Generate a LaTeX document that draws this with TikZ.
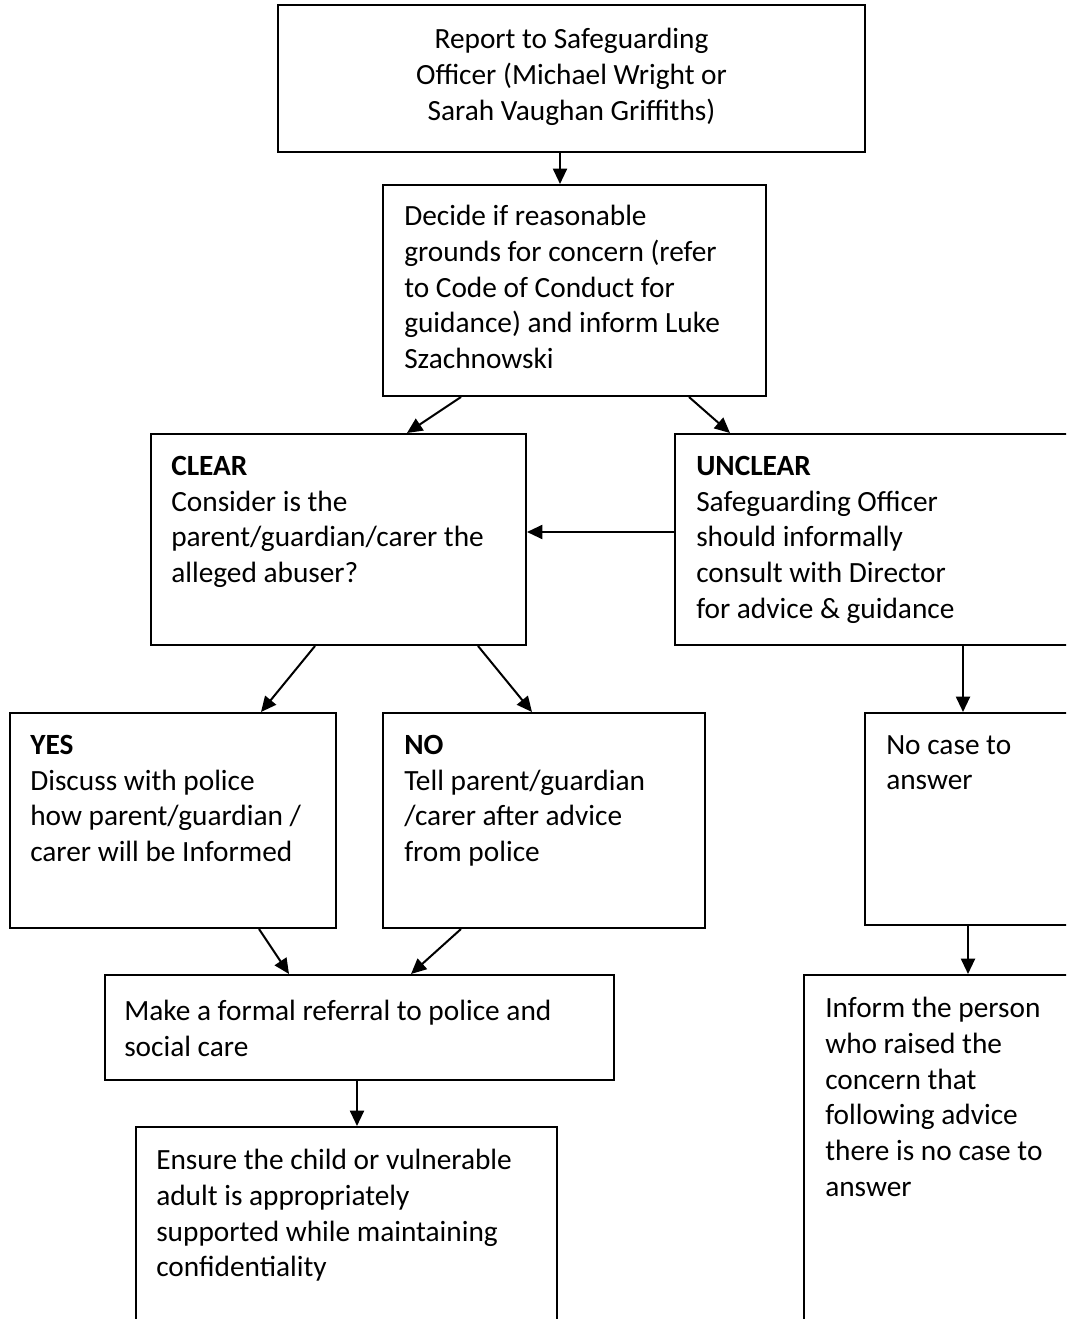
\documentclass[tikz,border=0pt]{standalone}
\usepackage{fontspec}
\setmainfont{Carlito}
\usetikzlibrary{fit,arrows.meta}

\tikzset{
  box/.style={draw,line width=1.5pt,inner sep=0pt},
  txt/.style={anchor=north west,inner sep=0pt,align=left,font=\fontsize{22}{26.8}\selectfont,execute at begin node=\strut},
  arr/.style={line width=1.5pt,-{Triangle[length=11.5pt,width=10.5pt]}}
}

\begin{document}
\begin{tikzpicture}[x=0.75pt,y=-0.75pt]

\useasboundingbox (0,0) rectangle (1066,1319);
\clip (0,0) rectangle (1066,1319);

\node[box,fit={(278,5) (865,152)}] (report) {};
\node[box,fit={(383,185) (766,396)}] (decide) {};
\node[box,fit={(151,434) (526,645)}] (clear) {};
\node[box,fit={(675,434) (1080,645)}] (unclear) {};
\node[box,fit={(10,713) (336,928)}] (yes) {};
\node[box,fit={(383,713) (705,928)}] (no) {};
\node[box,fit={(865,713) (1080,925)}] (nocase) {};
\node[box,fit={(105,975) (614,1080)}] (referral) {};
\node[box,fit={(136,1127) (557,1340)}] (ensure) {};
\node[box,fit={(804,975) (1080,1340)}] (inform) {};

\node[txt,anchor=north,align=center] (reporttxt) at ([shift={(0,24)}]report.north)
  {Report to Safeguarding\\Officer (Michael Wright or\\Sarah Vaughan Griffiths)};
\node[txt] (decidetxt) at ([shift={(22,21)}]decide.north west)
  {Decide if reasonable\\grounds for concern (refer\\to Code of Conduct for\\guidance) and inform Luke\\Szachnowski};
\node[txt] (cleartxt) at ([shift={(21,23)}]clear.north west)
  {\textbf{CLEAR}\\Consider is the\\parent/guardian/carer the\\alleged abuser?};
\node[txt] (uncleartxt) at ([shift={(22,23)}]unclear.north west)
  {\textbf{UNCLEAR}\\Safeguarding Officer\\should informally\\consult with Director\\for advice \& guidance};
\node[txt] (yestxt) at ([shift={(21,23)}]yes.north west)
  {\textbf{YES}\\Discuss with police\\how parent/guardian /\\carer will be Informed};
\node[txt] (notxt) at ([shift={(22,23)}]no.north west)
  {\textbf{NO}\\Tell parent/guardian\\/carer after advice\\from police};
\node[txt] (nocasetxt) at ([shift={(22,23)}]nocase.north west)
  {No case to\\answer};
\node[txt] (referraltxt) at ([shift={(20,26)}]referral.north west)
  {Make a formal referral to police and\\social care};
\node[txt] (ensuretxt) at ([shift={(21,23)}]ensure.north west)
  {Ensure the child or vulnerable\\adult is appropriately\\supported while maintaining\\confidentiality};
\node[txt] (informtxt) at ([shift={(22,23)}]inform.north west)
  {Inform the person\\who raised the\\concern that\\following advice\\there is no case to\\answer};

\draw[arr] (report.south -| 560,0) -- (decide.north -| 560,0);
\draw[arr] (decide.south -| 461,0) -- (clear.north -| 407,0);
\draw[arr] (decide.south -| 689,0) -- (unclear.north -| 730,0);
\draw[arr] (unclear.west |- 0,532) -- (clear.east |- 0,532);
\draw[arr] (clear.south -| 315,0) -- (yes.north -| 261,0);
\draw[arr] (clear.south -| 478,0) -- (no.north -| 532,0);
\draw[arr] (unclear.south -| 963,0) -- (nocase.north -| 963,0);
\draw[arr] (yes.south -| 259,0) -- (referral.north -| 289,0);
\draw[arr] (no.south -| 461,0) -- (referral.north -| 411,0);
\draw[arr] (referral.south -| 357,0) -- (ensure.north -| 357,0);
\draw[arr] (nocase.south -| 968,0) -- (inform.north -| 968,0);

\end{tikzpicture}
\end{document}
